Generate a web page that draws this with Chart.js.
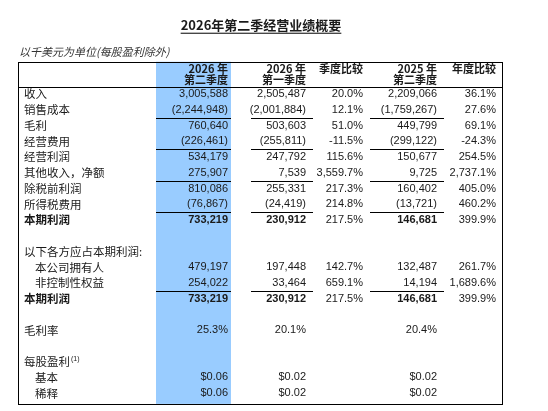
<!DOCTYPE html>
<html>
<head>
<meta charset="utf-8">
<script src="https://cdn.jsdelivr.net/npm/chart.js@4"></script>
<style>
  html, body { margin: 0; padding: 0; background: #fff; }
  #wrap { width: 548px; height: 411px; }
</style>
</head>
<body>
<div id="wrap"><canvas id="c"></canvas></div>
<script>
// Table contents (one entry per row; '' = blank cell)
const rowLabels = ['收入', '销售成本', '毛利', '经营费用', '经营利润', '其他收入，净额', '除税前利润', '所得税费用', '本期利润',
  '', '以下各方应占本期利润:', '本公司拥有人', '非控制性权益', '本期利润', '', '毛利率', '', '每股盈利', '基本', '稀释'];
const q2_2026 = ['3,005,588', '(2,244,948)', '760,640', '(226,461)', '534,179', '275,907', '810,086', '(76,867)', '733,219',
  '', '', '479,197', '254,022', '733,219', '', '25.3%', '', '', '$0.06', '$0.06'];
const q1_2026 = ['2,505,487', '(2,001,884)', '503,603', '(255,811)', '247,792', '7,539', '255,331', '(24,419)', '230,912',
  '', '', '197,448', '33,464', '230,912', '', '20.1%', '', '', '$0.02', '$0.02'];
const qoqChange = ['20.0%', '12.1%', '51.0%', '-11.5%', '115.6%', '3,559.7%', '217.3%', '214.8%', '217.5%',
  '', '', '142.7%', '659.1%', '217.5%', '', '', '', '', '', ''];
const q2_2025 = ['2,209,066', '(1,759,267)', '449,799', '(299,122)', '150,677', '9,725', '160,402', '(13,721)', '146,681',
  '', '', '132,487', '14,194', '146,681', '', '20.4%', '', '', '$0.02', '$0.02'];
const yoyChange = ['36.1%', '27.6%', '69.1%', '-24.3%', '254.5%', '2,737.1%', '405.0%', '460.2%', '399.9%',
  '', '', '261.7%', '1,689.6%', '399.9%', '', '', '', '', '', ''];
const headers = [['2026 年', '第二季度'], ['2026 年', '第一季度'], ['季度比较', ''], ['2025 年', '第二季度'], ['年度比较', '']];
const boldRows = [8, 13];
const indentRows = [11, 12, 18, 19];
const ruleRows = [1, 3, 5, 7, 12];

const TITLE = '2026年第二季经营业绩概要';
const SUBTITLE = '以千美元为单位(每股盈利除外)';

const columns = [q2_2026, q1_2026, qoqChange, q2_2025, yoyChange];
const colRight = [228, 306, 363, 437, 496];
const ruleSpan = [[156, 231], [251, 313], null, [370, 444], null];
const TEXT = '#1a1a1a';
const CJK = '"Noto Sans CJK SC", sans-serif';
const NUM = '"Liberation Sans", Arial, sans-serif';

const tablePlugin = {
  id: 'table',
  beforeDatasetsDraw(chart) {
    const { ctx } = chart;
    const x = chart.scales.x, y = chart.scales.y;
    ctx.save();
    // highlighted current-quarter column
    ctx.fillStyle = '#99ccff';
    ctx.fillRect(x.getPixelForValue(156), y.getPixelForValue(-2.05), 75, y.getPixelForValue(19.68) - y.getPixelForValue(-2.05));
    ctx.restore();
  },
  afterDatasetsDraw(chart) {
    const { ctx } = chart;
    const x = chart.scales.x, y = chart.scales.y;
    ctx.save();
    ctx.fillStyle = TEXT;
    ctx.strokeStyle = '#000';
    ctx.textBaseline = 'middle';

    // title
    ctx.font = 'bold 13px ' + CJK;
    ctx.textAlign = 'center';
    const ty = y.getPixelForValue(-4.4);
    ctx.fillText(TITLE, x.getPixelForValue(261), ty);
    const tw = ctx.measureText(TITLE).width;
    ctx.lineWidth = 1;
    ctx.beginPath();
    ctx.moveTo(x.getPixelForValue(261) - tw / 2, ty + 8.5);
    ctx.lineTo(x.getPixelForValue(261) + tw / 2, ty + 8.5);
    ctx.stroke();

    // subtitle
    ctx.font = 'italic 11px ' + CJK;
    ctx.textAlign = 'left';
    ctx.fillStyle = '#333';
    ctx.fillText(SUBTITLE, x.getPixelForValue(19), y.getPixelForValue(-2.65));
    ctx.fillStyle = TEXT;

    // frame + header rule
    ctx.lineWidth = 1;
    const top = y.getPixelForValue(-2.05), bot = y.getPixelForValue(19.68);
    ctx.strokeRect(x.getPixelForValue(18) + 0.5, Math.round(top) + 0.5, 484, Math.round(bot - top));
    ctx.beginPath();
    ctx.moveTo(x.getPixelForValue(18), Math.round(y.getPixelForValue(-0.45)) + 0.5);
    ctx.lineTo(x.getPixelForValue(502), Math.round(y.getPixelForValue(-0.45)) + 0.5);
    ctx.stroke();

    // headers
    ctx.font = 'bold 11px ' + CJK;
    ctx.textAlign = 'right';
    headers.forEach((h, c) => {
      const hx = x.getPixelForValue(colRight[c]);
      ctx.fillText(h[0], hx, y.getPixelForValue(-1.62));
      if (h[1]) ctx.fillText(h[1], hx, y.getPixelForValue(-0.92));
    });

    // rows
    rowLabels.forEach((label, r) => {
      const ry = y.getPixelForValue(r);
      const bold = boldRows.includes(r);
      ctx.textAlign = 'left';
      ctx.font = (bold ? 'bold ' : '') + '11.5px ' + CJK;
      let lx = x.getPixelForValue(indentRows.includes(r) ? 35 : 24);
      ctx.fillText(label, lx, ry);
      if (r === 17) {
        const w = ctx.measureText(label).width;
        ctx.font = '7px ' + NUM;
        ctx.fillText('(1)', lx + w + 1, ry - 3);
      }
      ctx.textAlign = 'right';
      columns.forEach((col, c) => {
        const pct = c === 2 || c === 4;
        ctx.font = (bold && !pct ? 'bold ' : '') + '11px ' + NUM;
        if (col[r]) ctx.fillText(col[r], x.getPixelForValue(colRight[c]), ry);
      });
    });

    // subtotal rules
    ctx.beginPath();
    ruleRows.forEach(r => {
      const ly = Math.round(y.getPixelForValue(r + 0.5)) + 0.5;
      ruleSpan.forEach(s => {
        if (!s) return;
        ctx.moveTo(x.getPixelForValue(s[0]), ly);
        ctx.lineTo(x.getPixelForValue(s[1]), ly);
      });
    });
    ctx.stroke();
    ctx.restore();
  }
};

new Chart(document.getElementById('c'), {
  type: 'scatter',
  data: { datasets: [{ data: [], pointRadius: 0 }] },
  options: {
    responsive: true,
    maintainAspectRatio: false,
    animation: false,
    layout: { padding: 0 },
    plugins: { legend: { display: false }, tooltip: { enabled: false } },
    scales: {
      x: { type: 'linear', display: false, min: 0, max: 548 },
      y: { type: 'linear', display: false, min: -5.97, max: 20.13, reverse: true }
    }
  },
  plugins: [tablePlugin]
});
</script>
</body>
</html>
